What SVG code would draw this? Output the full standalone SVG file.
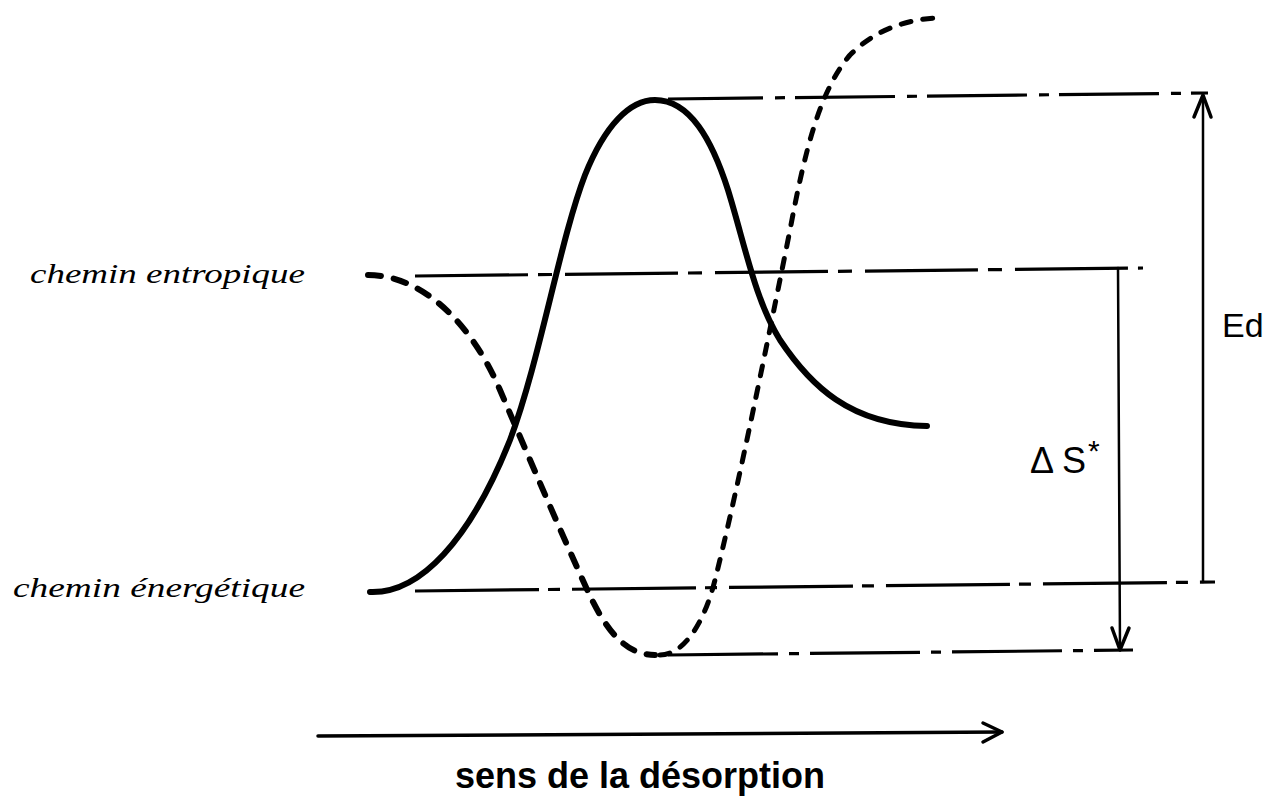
<svg xmlns="http://www.w3.org/2000/svg" width="1268" height="798" viewBox="0 0 1268 798">
<style>
.bg{fill:#fff}
.solid{fill:none;stroke:#000;stroke-width:6;stroke-linecap:round;stroke-linejoin:round}
.dash1{fill:none;stroke:#000;stroke-width:6;stroke-linecap:round;stroke-dasharray:13 13}
.dash2{fill:none;stroke:#000;stroke-width:5;stroke-linecap:round;stroke-dasharray:10 12}
.dd{fill:none;stroke:#000;stroke-width:3.2}
.dim{fill:none;stroke:#000;stroke-width:2.5;stroke-linecap:round;stroke-linejoin:round}
.arr{fill:none;stroke:#000;stroke-width:3.5;stroke-linecap:round;stroke-linejoin:round}
.script{font-family:"Liberation Serif","DejaVu Serif",serif;font-style:italic;font-size:28px;fill:#000}
.lab{font-family:"Liberation Sans",Arial,sans-serif;fill:#000}
</style>
<rect class="bg" x="0" y="0" width="1268" height="798"/>
<g id="curves">
<path id="solid-curve" class="solid" d="M370,592 C420,594 470,540 510,440 C540,360 560,240 585,175 C605,125 630,100 655,100 C690,100 712,140 728,190 C745,245 755,300 780,340 C810,385 850,425 927,426"/>
<path id="dashed-curve-1" class="dash1" d="M368,275 C420,275 470,320 500,390 C530,460 560,530 585,585 C605,630 625,655 655,655"/>
<path id="dashed-curve-2" class="dash2" d="M660,655 C685,655 705,620 715,580 C735,500 760,380 790,230 C805,150 820,90 850,55 C875,30 905,20 935,18"/>
</g>
<g id="connectors">
<line class="dd" x1="668" y1="99" x2="1208" y2="93" stroke-dasharray="100 12 10 10" stroke-dashoffset="5"/>
<line class="dd" x1="415" y1="276" x2="1143" y2="268" stroke-dasharray="113 10 14 13"/>
<line class="dd" x1="415" y1="591" x2="1215" y2="582" stroke-dasharray="124 9 12 12"/>
<line class="dd" x1="668" y1="655" x2="1133" y2="650" stroke-dasharray="110 11 10 11"/>
<line class="dim" x1="1203" y1="582" x2="1203" y2="96"/>
<polyline class="arr" points="1194,117 1203,95 1211,117"/>
<line class="dim" x1="1118" y1="268" x2="1120" y2="649"/>
<polyline class="arr" points="1112,628 1120,650 1129,628"/>
<line class="arr" x1="318" y1="736" x2="1002" y2="732"/>
<polyline class="arr" points="983,723 1002,732 983,742"/>
</g>
<g id="label-entropique"><text class="script" x="30" y="283" textLength="275" lengthAdjust="spacingAndGlyphs">chemin entropique</text></g>
<g id="label-energetique"><text class="script" x="13" y="597" textLength="292" lengthAdjust="spacingAndGlyphs">chemin énergétique</text></g>
<g id="label-Ed"><text class="lab" x="1222" y="337" font-size="34">Ed</text></g>
<g id="label-dS"><text class="lab" x="1030" y="473" font-size="36">Δ<tspan dx="8">S</tspan><tspan dx="2" dy="-12" font-size="30">*</tspan></text></g>
<g id="label-sens"><text class="lab" x="640" y="788" font-size="36" font-weight="bold" text-anchor="middle">sens de la désorption</text></g>
</svg>
